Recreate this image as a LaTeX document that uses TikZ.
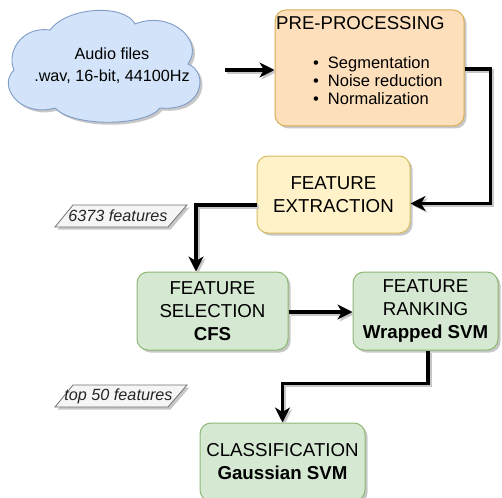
\documentclass[tikz,border=0pt]{standalone}
\usepackage{fontspec}
\setmainfont{Liberation Sans}
\usetikzlibrary{arrows.meta,shadows,calc}
\definecolor{preFill}{HTML}{FDDFBC}
\definecolor{preDraw}{HTML}{D9AE55}
\definecolor{feFill}{HTML}{FFF1C8}
\definecolor{feDraw}{HTML}{D8BC62}
\definecolor{gFill}{HTML}{D5E8D2}
\definecolor{gDraw}{HTML}{8DB874}
\definecolor{cFill}{HTML}{D3E4FA}
\definecolor{cDraw}{HTML}{7F9CC8}
\definecolor{pFill}{HTML}{F5F5F5}
\definecolor{pDraw}{HTML}{707070}
\tikzset{
  shad/.style={drop shadow={shadow xshift=2.5pt,shadow yshift=-2.5pt,fill=black,opacity=0.22}},
  box/.style={shad,draw,line width=1pt,rounded corners=11pt,inner sep=0pt,align=center,
    font=\fontsize{18.7}{23}\selectfont},
  prebox/.style={box,fill=preFill,draw=preDraw},
  febox/.style={box,fill=feFill,draw=feDraw},
  gbox/.style={box,fill=gFill,draw=gDraw},
  conn/.style={line width=3.4pt,-{Stealth[length=15pt,width=15pt,inset=4.5pt]},
    preaction={draw=black!22,line width=3.4pt,transform canvas={shift={(2pt,-2pt)}}}},
  para/.style={shad,fill=pFill,draw=pDraw,line width=0.8pt},
  lbl/.style={inner sep=0pt,font=\fontsize{16.2}{19}\selectfont\itshape,text=black!85},
}
\begin{document}
\begin{tikzpicture}[x=1pt,y=-1pt]
\useasboundingbox (0,0) rectangle (502,497);
% cloud
\path[shad,fill=cFill,draw=cDraw,line width=0.9pt]
  (50,30) .. controls (22,26) and (6,52) .. (14,70)
  .. controls (-3,86) and (20,118) .. (55,108)
  .. controls (72,127) and (145,127) .. (160,108)
  .. controls (204,112) and (209,72) .. (188,64)
  .. controls (205,40) and (170,10) .. (135,24)
  .. controls (125,4) and (68,6) .. (50,30) -- cycle;
\node[inner sep=0pt,align=center,font=\fontsize{16.2}{22}\selectfont] (cloud) at (112,66)
  {Audio files\\.wav, 16-bit, 44100Hz};
\coordinate (cloudR) at (225,70);
% pre-processing
\node[prebox,minimum width=189pt,minimum height=116pt] (pre) at (369.5,68) {};
\node[anchor=west,inner sep=0pt,font=\fontsize{18.6}{22}\selectfont] (pretitle) at (276,23) {PRE-PROCESSING};
\node[anchor=west,inner sep=0pt,align=left,font=\fontsize{16.5}{18}\selectfont] (prelist) at (313,80.5)
  {\textbullet\hspace{9pt}Segmentation\\\textbullet\hspace{9pt}Noise reduction\\\textbullet\hspace{9pt}Normalization};
% feature extraction
\node[febox,minimum width=153pt,minimum height=77pt] (fe) at (333.5,194.5) {FEATURE\\EXTRACTION};
% selection / ranking
\node[gbox,minimum width=151pt,minimum height=78pt] (fs) at (212.5,311) {FEATURE\\SELECTION\\\textbf{CFS}};
\node[gbox,minimum width=145pt,minimum height=78pt] (fr) at (425.5,311) {FEATURE\\RANKING\\\textbf{Wrapped SVM}};
% classification
\node[gbox,minimum width=165pt,minimum height=78pt] (cl) at (282.5,462) {CLASSIFICATION\\\textbf{Gaussian SVM}};
% labels
\path[para] (73,205) -- (187,205) -- (168,227) -- (55,227) -- cycle;
\node[lbl] (l1) at (118,216) {6373 features};
\path[para] (73,385) -- (187,385) -- (168,407) -- (55,407) -- cycle;
\node[lbl] (l2) at (118.5,396) {top 50 features};
% connectors
\draw[conn] (cloudR) -- (pre.west |- cloudR);
\draw[conn] ([yshift=-1pt]pre.east) -- ++(26,0) |- ([yshift=-9pt]fe.east);
\draw[conn] ([yshift=-10.5pt]fe.west) -| ([xshift=-16.5pt]fs.north);
\draw[conn] ([yshift=-1pt]fs.east) -- ([yshift=-1pt]fr.west);
\draw[conn] ([xshift=2.5pt]fr.south) -- ++(0,33) -| (cl.north);
\end{tikzpicture}
\end{document}
